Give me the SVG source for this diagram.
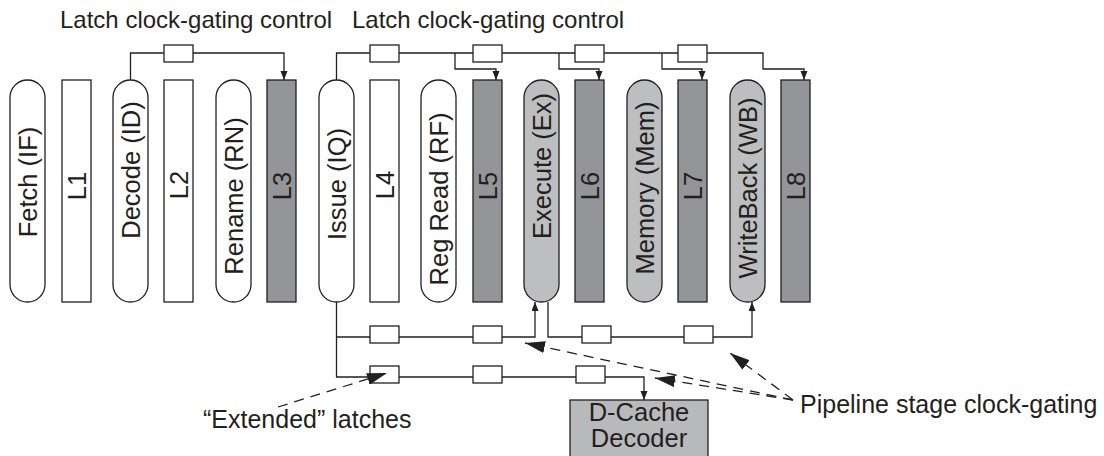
<svg xmlns="http://www.w3.org/2000/svg" width="1104" height="456" viewBox="0 0 1104 456">
<defs>
<style>
.t{font-family:"Liberation Sans",Arial,Helvetica,sans-serif;font-size:24px;fill:#231f20}
.r{font-family:"Liberation Sans",Arial,Helvetica,sans-serif;font-size:25.5px;fill:#231f20;text-anchor:middle}
.pill{fill:#fff;stroke:#231f20;stroke-width:1.3}
.pg{fill:#bcbec0;stroke:#231f20;stroke-width:1.3}
.lat{fill:#fff;stroke:#231f20;stroke-width:1.3}
.ld{fill:#939598;stroke:#231f20;stroke-width:1.3}
.w{fill:none;stroke:#231f20;stroke-width:1.3}
.box{fill:#fff;stroke:#231f20;stroke-width:1.3}
.dash{fill:none;stroke:#231f20;stroke-width:1.3;stroke-dasharray:10 7}
</style>
<marker id="a" markerUnits="userSpaceOnUse" markerWidth="10" markerHeight="8" refX="9" refY="3.5" orient="auto"><path d="M0,0 L9,3.5 L0,7 z" fill="#231f20"/></marker>
<marker id="b" markerUnits="userSpaceOnUse" markerWidth="22" markerHeight="12" refX="20" refY="6" orient="auto"><path d="M0,0 L20,6 L0,12 z" fill="#231f20"/></marker>
</defs>

<text class="t" x="60" y="28">Latch clock-gating control</text>
<text class="t" x="352" y="28">Latch clock-gating control</text>

<g id="connectors">
<path class="w" d="M130.5,80 V53 H284 V80" marker-end="url(#a)"/>
<path class="w" d="M336.5,80 V53 H763 V69 H804 V80" marker-end="url(#a)"/>
<path class="w" d="M455,53 V69 H496 V80" marker-end="url(#a)"/>
<path class="w" d="M559,53 V69 H599 V80" marker-end="url(#a)"/>
<path class="w" d="M662,53 V69 H702 V80" marker-end="url(#a)"/>
<path class="w" d="M336.5,302 V377 H644 V400" marker-end="url(#a)"/>
<path class="w" d="M336.5,337 H535 V302" marker-end="url(#a)"/>
<path class="w" d="M548,302 V337 H752 V302" marker-end="url(#a)"/>
<rect class="box" x="164" y="45" width="29" height="17"/>
<rect class="box" x="370" y="45" width="29" height="17"/>
<rect class="box" x="473" y="45" width="29" height="17"/>
<rect class="box" x="575" y="45" width="29" height="17"/>
<rect class="box" x="678" y="45" width="29" height="17"/>
<rect class="box" x="370" y="326" width="29" height="17"/>
<rect class="box" x="473" y="326" width="29" height="17"/>
<rect class="box" x="582" y="326" width="29" height="17"/>
<rect class="box" x="684" y="326" width="29" height="17"/>
<rect class="box" x="370" y="366" width="29" height="17"/>
<rect class="box" x="473" y="366" width="29" height="17"/>
<rect class="box" x="576" y="366" width="29" height="17"/>
<path class="dash" d="M278,407 L387,373" marker-end="url(#b)"/>
<path class="dash" d="M793,400 L525,343" marker-end="url(#b)"/>
<path class="dash" d="M793,400 L655,378" marker-end="url(#b)"/>
<path class="dash" d="M793,400 L730,353" marker-end="url(#b)"/>
</g>

<g id="fetch"><rect class="pill" x="10" y="80" width="35" height="222" rx="17.5"/><text class="r" transform="translate(27.5,182) rotate(-90)" y="9">Fetch (IF)</text></g>
<g id="l1"><rect class="lat" x="62" y="80" width="29" height="222"/><text class="r" transform="translate(76.5,186) rotate(-90)" y="9">L1</text></g>
<g id="decode"><rect class="pill" x="113" y="80" width="35" height="222" rx="17.5"/><text class="r" transform="translate(130.5,170) rotate(-90)" y="9">Decode (ID)</text></g>
<g id="l2"><rect class="lat" x="164" y="80" width="29" height="222"/><text class="r" transform="translate(178.5,185) rotate(-90)" y="9">L2</text></g>
<g id="rename"><rect class="pill" x="216" y="80" width="35" height="222" rx="17.5"/><text class="r" transform="translate(233.5,196) rotate(-90)" y="9">Rename (RN)</text></g>
<g id="l3"><rect class="ld" x="267" y="80" width="29" height="222"/><text class="r" transform="translate(281.5,186) rotate(-90)" y="9">L3</text></g>
<g id="issue"><rect class="pill" x="319" y="80" width="35" height="222" rx="17.5"/><text class="r" transform="translate(336.5,184) rotate(-90)" y="9">Issue (IQ)</text></g>
<g id="l4"><rect class="lat" x="370" y="80" width="29" height="222"/><text class="r" transform="translate(384.5,185) rotate(-90)" y="9">L4</text></g>
<g id="regread"><rect class="pill" x="421" y="80" width="35" height="222" rx="17.5"/><text class="r" transform="translate(438.5,199) rotate(-90)" y="9">Reg Read (RF)</text></g>
<g id="l5"><rect class="ld" x="473" y="80" width="29" height="222"/><text class="r" transform="translate(487.5,186) rotate(-90)" y="9">L5</text></g>
<g id="execute"><rect class="pg" x="524" y="80" width="35" height="222" rx="17.5"/><text class="r" transform="translate(541.5,166) rotate(-90)" y="9">Execute (Ex)</text></g>
<g id="l6"><rect class="ld" x="575" y="80" width="29" height="222"/><text class="r" transform="translate(589.5,186) rotate(-90)" y="9">L6</text></g>
<g id="memory"><rect class="pg" x="627" y="80" width="35" height="222" rx="17.5"/><text class="r" transform="translate(644.5,188) rotate(-90)" y="9">Memory (Mem)</text></g>
<g id="l7"><rect class="ld" x="678" y="80" width="29" height="222"/><text class="r" transform="translate(692.5,186) rotate(-90)" y="9">L7</text></g>
<g id="writeback"><rect class="pg" x="730" y="80" width="35" height="222" rx="17.5"/><text class="r" transform="translate(747.5,188) rotate(-90)" y="9">WriteBack (WB)</text></g>
<g id="l8"><rect class="ld" x="781" y="80" width="29" height="222"/><text class="r" transform="translate(795.5,186) rotate(-90)" y="9">L8</text></g>

<g id="dcache"><rect x="570" y="400" width="138" height="70" fill="#b8b9bb" stroke="#231f20" stroke-width="1.3"/><text class="r" x="639" y="421">D-Cache</text><text class="r" x="639" y="447">Decoder</text></g>

<text class="t" x="203" y="428" style="font-size:25px">“Extended” latches</text>
<text class="t" x="800" y="413" style="font-size:25px">Pipeline stage clock-gating</text>
</svg>
